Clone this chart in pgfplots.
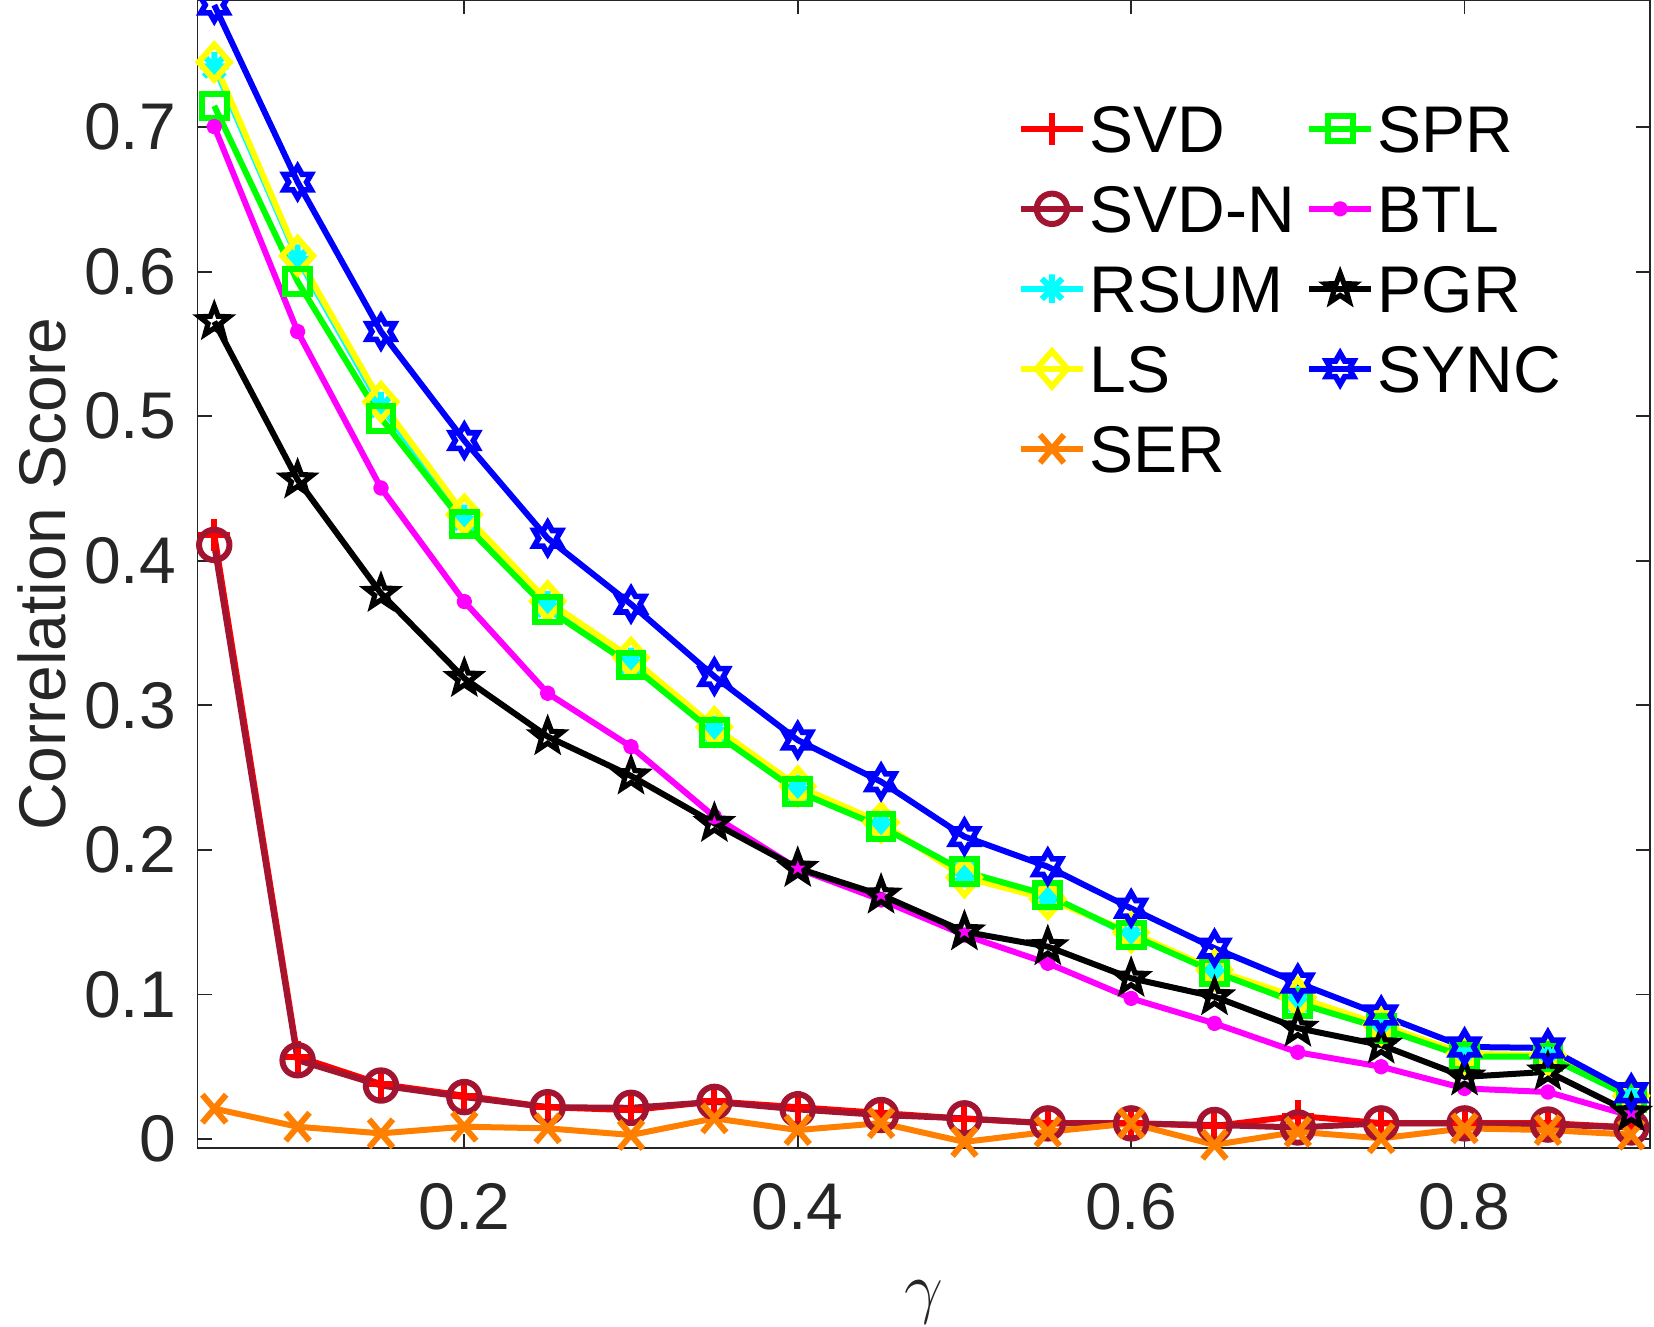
\documentclass[border=0pt]{standalone}
\usepackage{fontspec}
\setmainfont{Liberation Sans}
\usepackage{pgfplots}
\usepackage{pgfplotstable}
\pgfplotsset{compat=1.18}
\usetikzlibrary{plotmarks}

\definecolor{svdn}{rgb}{0.635,0.078,0.184}
\definecolor{serc}{rgb}{1,0.5,0}
\definecolor{axgray}{rgb}{0.15,0.15,0.15}
\definecolor{mred}{rgb}{1,0,0}
\definecolor{mcyan}{rgb}{0,1,1}
\definecolor{myellow}{rgb}{1,1,0}
\definecolor{mgreen}{rgb}{0,1,0}
\definecolor{mmagenta}{rgb}{1,0,1}
\definecolor{mblue}{rgb}{0,0,1}
\definecolor{mblack}{rgb}{0,0,0}

\pgfdeclareplotmark{mplus}{%
  \pgfpathmoveto{\pgfqpoint{-\pgfplotmarksize}{0pt}}\pgfpathlineto{\pgfqpoint{\pgfplotmarksize}{0pt}}%
  \pgfpathmoveto{\pgfqpoint{0pt}{-\pgfplotmarksize}}\pgfpathlineto{\pgfqpoint{0pt}{\pgfplotmarksize}}%
  \pgfusepathqstroke}
\pgfdeclareplotmark{mast}{%
  \pgfpathmoveto{\pgfqpoint{-\pgfplotmarksize}{0pt}}\pgfpathlineto{\pgfqpoint{\pgfplotmarksize}{0pt}}%
  \pgfpathmoveto{\pgfqpoint{0pt}{-\pgfplotmarksize}}\pgfpathlineto{\pgfqpoint{0pt}{\pgfplotmarksize}}%
  \pgfpathmoveto{\pgfpoint{-0.7071\pgfplotmarksize}{-0.7071\pgfplotmarksize}}\pgfpathlineto{\pgfpoint{0.7071\pgfplotmarksize}{0.7071\pgfplotmarksize}}%
  \pgfpathmoveto{\pgfpoint{-0.7071\pgfplotmarksize}{0.7071\pgfplotmarksize}}\pgfpathlineto{\pgfpoint{0.7071\pgfplotmarksize}{-0.7071\pgfplotmarksize}}%
  \pgfusepathqstroke}
\pgfdeclareplotmark{mx}{%
  \pgfpathmoveto{\pgfpoint{-0.85\pgfplotmarksize}{-\pgfplotmarksize}}\pgfpathlineto{\pgfpoint{0.85\pgfplotmarksize}{\pgfplotmarksize}}%
  \pgfpathmoveto{\pgfpoint{-0.85\pgfplotmarksize}{\pgfplotmarksize}}\pgfpathlineto{\pgfpoint{0.85\pgfplotmarksize}{-\pgfplotmarksize}}%
  \pgfusepathqstroke}
\pgfdeclareplotmark{mdiamond}{%
  \pgfpathmoveto{\pgfqpoint{0pt}{\pgfplotmarksize}}%
  \pgfpathlineto{\pgfpoint{0.88\pgfplotmarksize}{0pt}}%
  \pgfpathlineto{\pgfqpoint{0pt}{-\pgfplotmarksize}}%
  \pgfpathlineto{\pgfpoint{-0.88\pgfplotmarksize}{0pt}}%
  \pgfpathclose\pgfusepathqstroke}
\pgfdeclareplotmark{mpenta}{%
  \pgfpathmoveto{\pgfpointpolar{90}{\pgfplotmarksize}}%
  \pgfpathlineto{\pgfpointpolar{126}{0.42\pgfplotmarksize}}%
  \pgfpathlineto{\pgfpointpolar{162}{\pgfplotmarksize}}%
  \pgfpathlineto{\pgfpointpolar{198}{0.42\pgfplotmarksize}}%
  \pgfpathlineto{\pgfpointpolar{234}{\pgfplotmarksize}}%
  \pgfpathlineto{\pgfpointpolar{270}{0.42\pgfplotmarksize}}%
  \pgfpathlineto{\pgfpointpolar{306}{\pgfplotmarksize}}%
  \pgfpathlineto{\pgfpointpolar{342}{0.42\pgfplotmarksize}}%
  \pgfpathlineto{\pgfpointpolar{18}{\pgfplotmarksize}}%
  \pgfpathlineto{\pgfpointpolar{54}{0.42\pgfplotmarksize}}%
  \pgfpathclose\pgfusepathqstroke}
\pgfdeclareplotmark{mhexa}{%
  \pgfpathmoveto{\pgfpointpolar{90}{\pgfplotmarksize}}%
  \pgfpathlineto{\pgfpointpolar{120}{0.5774\pgfplotmarksize}}%
  \pgfpathlineto{\pgfpointpolar{150}{\pgfplotmarksize}}%
  \pgfpathlineto{\pgfpointpolar{180}{0.5774\pgfplotmarksize}}%
  \pgfpathlineto{\pgfpointpolar{210}{\pgfplotmarksize}}%
  \pgfpathlineto{\pgfpointpolar{240}{0.5774\pgfplotmarksize}}%
  \pgfpathlineto{\pgfpointpolar{270}{\pgfplotmarksize}}%
  \pgfpathlineto{\pgfpointpolar{300}{0.5774\pgfplotmarksize}}%
  \pgfpathlineto{\pgfpointpolar{330}{\pgfplotmarksize}}%
  \pgfpathlineto{\pgfpointpolar{0}{0.5774\pgfplotmarksize}}%
  \pgfpathlineto{\pgfpointpolar{30}{\pgfplotmarksize}}%
  \pgfpathlineto{\pgfpointpolar{60}{0.5774\pgfplotmarksize}}%
  \pgfpathclose\pgfusepathqstroke}

\pgfplotstableread{
x    svd    svdn   rsum   ls     ser     spr    btl    pgr    sync
0.05 0.418  0.411  0.742  0.745  0.021   0.7147 0.7004 0.5655 0.7845
0.10 0.057  0.0545 0.609  0.611  0.0085  0.5932 0.5586 0.456  0.662
0.15 0.038  0.037  0.507  0.510  0.0039  0.4987 0.4504 0.3775 0.5586
0.20 0.030  0.029  0.429  0.432  0.0085  0.4255 0.3718 0.3187 0.4832
0.25 0.022  0.022  0.369  0.372  0.0074  0.3665 0.3084 0.2784 0.4156
0.30 0.020  0.0216 0.330  0.333  0.0028  0.328  0.2714 0.2512 0.370
0.35 0.026  0.0257 0.283  0.285  0.0143  0.281  0.223  0.2184 0.320
0.40 0.022  0.0205 0.242  0.244  0.0062  0.2403 0.187  0.1873 0.276
0.45 0.018  0.0166 0.217  0.219  0.011   0.2161 0.1654 0.1688 0.2472
0.50 0.014  0.0143 0.184  0.181  -0.002  0.185  0.1411 0.1434 0.2092
0.55 0.011  0.0108 0.168  0.166  0.005   0.1688 0.1216 0.1331 0.1884
0.60 0.011  0.0108 0.141  0.143  0.0108  0.1411 0.0973 0.1112 0.1596
0.65 0.009  0.0097 0.116  0.117  -0.004  0.1156 0.080  0.0985 0.132
0.70 0.016  0.008  0.096  0.098  0.005   0.094  0.060  0.0767 0.108
0.75 0.011  0.0108 0.078  0.079  0.0005  0.0767 0.050  0.065  0.0858
0.80 0.011  0.0108 0.058  0.059  0.0074  0.057  0.035  0.043  0.0637
0.85 0.011  0.010  0.057  0.058  0.0062  0.057  0.0325 0.0465 0.063
0.90 0.008  0.008  0.029  0.030  0.003   0.029  0.016  0.018  0.032
}\datatab

\begin{document}
\begin{tikzpicture}
\begin{axis}[
  scale only axis, width=363pt, height=287pt,
  xmin=0.04, xmax=0.911, ymin=-0.0062, ymax=0.788,
  xtick={0.2,0.4,0.6,0.8},
  ytick={0,0.1,0.2,0.3,0.4,0.5,0.6,0.7},
  yticklabels={0,0.1,0.2,0.3,0.4,0.5,0.6,0.7},
  xticklabels={0.2,0.4,0.6,0.8},
  tick align=inside, major tick length=3.5pt,
  axis line style={draw=axgray, line width=0.45pt},
  every tick/.style={draw=axgray, line width=0.45pt},
  every tick label/.append style={font=\fontsize{16.5}{19.8}\selectfont, text=axgray},
  xticklabel style={anchor=north, inner sep=0pt, yshift=-8.6pt},
  yticklabel style={anchor=east, inner sep=0pt, xshift=-5.2pt},
  xlabel={$\gamma$},
  xlabel style={at={(axis description cs:0.5,-0.1415)}, anchor=base, inner sep=0pt, font=\fontsize{16.5}{19.8}\selectfont, text=axgray},
  ylabel={Correlation Score},
  ylabel style={at={(axis description cs:-0.1072,0.5)}, anchor=center, inner sep=0pt, font=\fontsize{16.5}{19.8}\selectfont, text=axgray},
  every axis plot/.append style={line width=1.5pt, line join=round},
  legend style={draw=none, fill=none, at={(axis description cs:0.565,0.9085)}, anchor=north west,
    inner sep=0pt, outer sep=0pt, row sep=8.1pt, column sep=0.9pt,
    nodes={inner sep=0pt, text height=11.9pt, text depth=0pt, font=\fontsize{16.5}{19.8}\selectfont, text=black},
    /tikz/every even column/.append style={column sep=2.8pt}},
  legend cell align=left,
  transpose legend, legend columns=5,
  legend image code/.code={\draw[mark repeat=2,mark phase=2,#1] plot coordinates {(0pt,0pt) (7.75pt,0pt) (15.5pt,0pt)};},
]
\addplot[color=mred, mark=mplus, mark size=4pt, mark options={line join=miter}] table[x=x,y=svd]{\datatab};
\addlegendentry{SVD}
\addplot[color=svdn, mark=o, mark size=3.8pt] table[x=x,y=svdn]{\datatab};
\addlegendentry{SVD-N}
\addplot[color=mcyan, mark=mast, mark size=3.6pt] table[x=x,y=rsum]{\datatab};
\addlegendentry{RSUM}
\addplot[color=myellow, mark=mdiamond, mark size=4.4pt, mark options={line join=miter}] table[x=x,y=ls]{\datatab};
\addlegendentry{LS}
\addplot[color=serc, mark=mx, mark size=3.5pt] table[x=x,y=ser]{\datatab};
\addlegendentry{SER}
\addplot[color=mgreen, mark=square, mark size=3.1pt, mark options={line join=miter}] table[x=x,y=spr]{\datatab};
\addlegendentry{SPR}
\addplot[color=mmagenta, mark=*, mark size=1.2pt] table[x=x,y=btl]{\datatab};
\addlegendentry{BTL}
\addplot[color=mblack, mark=mpenta, mark size=3.9pt, mark options={line join=miter, line width=1.3pt}] table[x=x,y=pgr]{\datatab};
\addlegendentry{PGR}
\addplot[color=mblue, mark=mhexa, mark size=3.9pt, mark options={line join=miter, line width=1.4pt}] table[x=x,y=sync]{\datatab};
\addlegendentry{SYNC}
\end{axis}
\pgfresetboundingbox
\path[use as bounding box] (-49.4pt,-44.75pt) rectangle (364.1pt,287pt);
\end{tikzpicture}
\end{document}
